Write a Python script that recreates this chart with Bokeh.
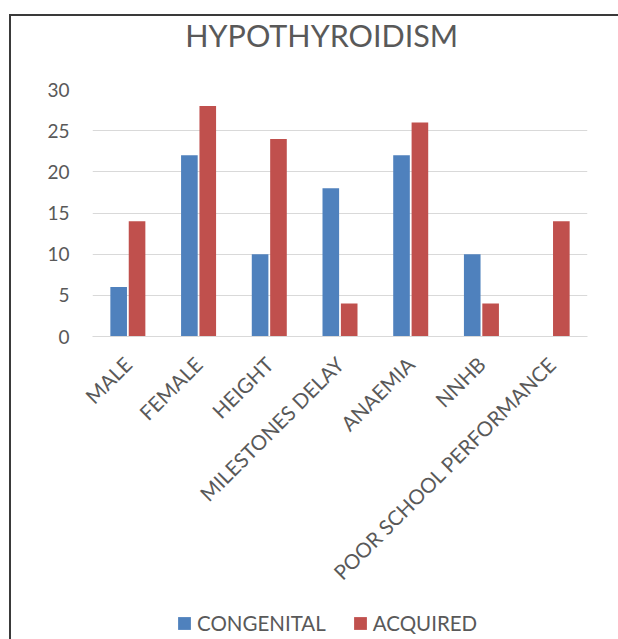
from bokeh.plotting import figure
from bokeh.models import Range1d, Legend, LegendItem, ColumnDataSource, FixedTicker, Label
from bokeh.transform import dodge
from bokeh.layouts import column
from bokeh.embed import file_html
from bokeh.resources import INLINE

categories = ["MALE", "FEMALE", "HEIGHT", "MILESTONES DELAY", "ANAEMIA", "NNHB",
              "POOR SCHOOL PERFORMANCE"]
congenital = [6, 22, 10, 18, 22, 10, 0]
acquired = [14, 28, 24, 4, 26, 4, 14]
series_names = ["CONGENITAL", "ACQUIRED"]
y_ticks = [0, 5, 10, 15, 20, 25, 30]
title_text = "HYPOTHYROIDISM"

BLUE = "#4F81BD"
RED = "#C0504D"
GREY = "#595959"
FONT = "Lato"


def strip(height):
    f = figure(width=607, height=height, x_range=Range1d(0, 1), y_range=Range1d(0, 1),
               output_backend="svg", toolbar_location=None,
               x_axis_location=None, y_axis_location=None,
               min_border=0, min_border_left=0, min_border_right=0,
               min_border_top=0, min_border_bottom=0)
    f.grid.visible = False
    f.outline_line_color = None
    return f


# title strip
tf = strip(61)
tf.add_layout(Label(x=0.463, y=0.689, text=title_text, text_align="center",
                    text_baseline="middle", text_font=FONT, text_font_size="30.5px",
                    text_color=GREY))

# main chart
src = ColumnDataSource(dict(cat=categories, con=congenital, acq=acquired))

p = figure(width=607, height=523, x_range=categories, y_range=Range1d(0, 30),
           output_backend="svg", toolbar_location=None,
           min_border_left=81, min_border_right=31, min_border_top=12, min_border_bottom=264)

r1 = p.vbar(x=dodge("cat", -0.13, range=p.x_range), top="con", width=0.235, source=src,
            fill_color=BLUE, line_color=None)
r2 = p.vbar(x=dodge("cat", 0.13, range=p.x_range), top="acq", width=0.235, source=src,
            fill_color=RED, line_color=None)

p.outline_line_color = None
p.xgrid.grid_line_color = None
p.ygrid.grid_line_color = "#D9D9D9"
p.ygrid.grid_line_width = 1

p.yaxis.ticker = FixedTicker(ticks=y_ticks)
p.yaxis.axis_line_color = None
p.yaxis.major_tick_line_color = None
p.yaxis.minor_tick_line_color = None
p.yaxis.major_label_text_font = FONT
p.yaxis.major_label_text_font_size = "19px"
p.yaxis.major_label_text_color = GREY
p.yaxis.major_label_standoff = 17

p.xaxis.axis_line_color = "#D9D9D9"
p.xaxis.major_tick_line_color = None
p.xaxis.minor_tick_line_color = None
p.xaxis.major_label_orientation = 0.785398
p.xaxis.major_label_text_font = FONT
p.xaxis.major_label_text_font_size = "20.5px"
p.xaxis.major_label_text_color = GREY
p.xaxis.major_label_standoff = 18

# legend strip below the chart
lg = strip(39)
hidden = ColumnDataSource(dict(x=[-10], top=[-10]))
d1 = lg.vbar(x="x", top="top", width=0.1, source=hidden, fill_color=BLUE, line_color=None)
d2 = lg.vbar(x="x", top="top", width=0.1, source=hidden, fill_color=RED, line_color=None)

legend = Legend(items=[LegendItem(label=series_names[0], renderers=[d1]),
                       LegendItem(label=series_names[1], renderers=[d2])],
                orientation="horizontal", location=(84, 4),
                label_text_font=FONT, label_text_font_size="20.5px", label_text_color=GREY,
                glyph_width=16, glyph_height=16, label_standoff=5, spacing=26,
                border_line_color=None, background_fill_alpha=0, margin=0, padding=0)
lg.add_layout(legend, "center")

layout = column(tf, p, lg, styles={"border-top": "2px solid #3A3A3A",
                                   "border-left": "2px solid #3A3A3A",
                                   "margin-left": "9px", "margin-top": "14px"})

open("out.html", "w").write(file_html(layout, INLINE))
